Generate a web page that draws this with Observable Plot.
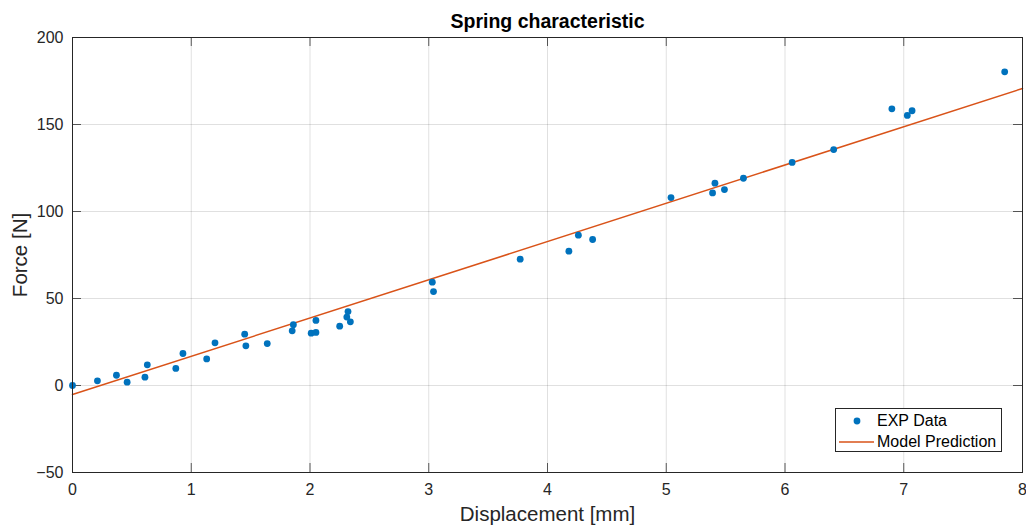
<!DOCTYPE html>
<html>
<head>
<meta charset="utf-8">
<script src="https://cdn.jsdelivr.net/npm/d3@7"></script>
<script src="https://cdn.jsdelivr.net/npm/@observablehq/plot@0.6"></script>
<style>
  body { margin: 0; background: #fff; font-family: "Liberation Sans", Arial, sans-serif; }
  #wrap { position: relative; width: 1026px; height: 529px; }
  .legend {
    position: absolute; left: 835px; top: 408px; width: 167px; height: 44px;
    box-sizing: border-box; border: 1px solid #262626; background: #fff;
    font-size: 16px; color: #000;
  }
  .legend .row { position: absolute; left: 0; height: 20px; line-height: 20px; }
  .legend .row span { position: absolute; left: 41px; white-space: nowrap; }
  .legend svg { position: absolute; left: 0; top: 0; }
</style>
</head>
<body>
<div id="wrap"></div>
<script>
// Measured spring data
const displacement = [
  0.00, 0.21, 0.37, 0.46, 0.61, 0.63, 0.87, 0.93, 1.13, 1.20,
  1.45, 1.46, 1.64, 1.85, 1.86, 2.01, 2.05, 2.05, 2.25, 2.31,
  2.32, 2.34, 3.03, 3.04, 3.77, 4.18, 4.26, 4.38, 5.04, 5.39,
  5.41, 5.49, 5.65, 6.06, 6.41, 6.90, 7.03, 7.07, 7.85
];
const force = [
  0.0, 2.7, 5.9, 1.9, 4.8, 11.9, 9.8, 18.4, 15.3, 24.5,
  29.5, 22.8, 24.1, 31.4, 34.9, 30.1, 30.5, 37.4, 34.1, 39.3,
  42.5, 36.6, 59.4, 54.0, 72.6, 77.2, 86.4, 83.9, 108.0, 110.7,
  116.3, 112.6, 119.1, 128.2, 135.6, 159.0, 155.2, 157.9, 180.3
];

// Linear model prediction, end points over the plotted range
const modelDisplacement = [0, 8];
const modelForce = [-5.2, 170.7];

// Axis ticks
const xTicks = [0, 1, 2, 3, 4, 5, 6, 7, 8];
const yTicks = [-50, 0, 50, 100, 150, 200];

const expData = displacement.map((d, i) => ({d, f: force[i]}));
const model = modelDisplacement.map((d, i) => ({d, f: modelForce[i]}));

const W = 1026, H = 529;
const mL = 72, mR = 4, mT = 37, mB = 57;
const plotW = W - mL - mR, plotH = H - mT - mB;
const tick = 9;
const axisColor = "#262626";
const blue = "#0072BD", orange = "#D95319";

const chart = Plot.plot({
  width: W, height: H,
  marginLeft: mL, marginRight: mR, marginTop: mT, marginBottom: mB,
  style: {fontFamily: '"Liberation Sans", Arial, sans-serif', fontSize: "16px", color: axisColor, background: "#fff"},
  x: {domain: [0, 8]},
  y: {domain: [-50, 200]},
  marks: [
    Plot.gridX(xTicks, {stroke: "#000", strokeOpacity: 0.12}),
    Plot.gridY(yTicks, {stroke: "#000", strokeOpacity: 0.12}),
    // inward tick marks on all four sides
    Plot.ruleX(xTicks, {insetTop: plotH - tick, stroke: axisColor, strokeOpacity: 0.75}),
    Plot.ruleX(xTicks, {insetBottom: plotH - tick, stroke: axisColor, strokeOpacity: 0.75}),
    Plot.ruleY(yTicks, {insetRight: plotW - tick, stroke: axisColor, strokeOpacity: 0.75}),
    Plot.ruleY(yTicks, {insetLeft: plotW - tick, stroke: axisColor, strokeOpacity: 0.75}),
    Plot.axisX({ticks: xTicks, tickSize: 0, tickPadding: 11, label: null, fontSize: 16}),
    Plot.axisY({ticks: yTicks, tickSize: 0, tickPadding: 9, label: null, fontSize: 16}),
    Plot.line(model, {x: "d", y: "f", stroke: orange, strokeWidth: 1.5}),
    Plot.dot(expData, {x: "d", y: "f", r: 3.4, fill: blue, stroke: "none"}),
    Plot.frame({stroke: axisColor}),
    Plot.text(["Spring characteristic"], {frameAnchor: "top", lineAnchor: "middle", dy: -16, fontWeight: "bold", fontSize: 19.5, fill: "#000"}),
    Plot.text(["Displacement [mm]"], {frameAnchor: "bottom", lineAnchor: "middle", dy: 42, fontSize: 20.5, fill: axisColor}),
    Plot.text(["Force [N]"], {frameAnchor: "left", textAnchor: "middle", lineAnchor: "middle", dx: -52, rotate: -90, fontSize: 20.5, fill: axisColor})
  ]
});

const wrap = document.getElementById("wrap");
wrap.appendChild(chart);

// Legend box
const legend = document.createElement("div");
legend.className = "legend";
legend.innerHTML = `
  <svg width="165" height="42">
    <circle cx="21" cy="12" r="3.4" fill="${blue}"></circle>
    <line x1="3" x2="38" y1="33" y2="33" stroke="${orange}" stroke-width="1.5"></line>
  </svg>
  <div class="row" style="top:2px"><span>EXP Data</span></div>
  <div class="row" style="top:23px"><span>Model Prediction</span></div>`;
wrap.appendChild(legend);
</script>
</body>
</html>
